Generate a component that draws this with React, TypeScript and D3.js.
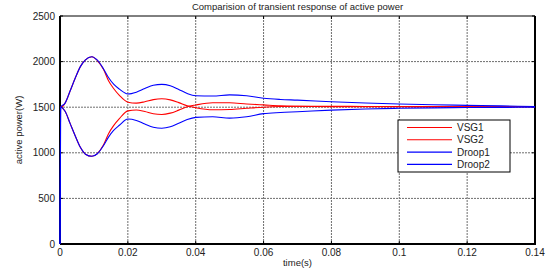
import React from "react";
import * as d3 from "d3";

// time axis (s) shared by all series
const time = [
  0, 0.0002, 0.0015, 0.003, 0.0045, 0.006, 0.0075, 0.0094, 0.011, 0.0128, 0.0143, 0.0158, 0.0175,
  0.02, 0.0225, 0.025, 0.0275, 0.03, 0.0325, 0.035, 0.0375, 0.04, 0.045, 0.05, 0.055, 0.06,
  0.065, 0.07, 0.08, 0.09, 0.1, 0.11, 0.12, 0.13, 0.14,
];

const vsg1 = [
  1500, 1500, 1545, 1680, 1820, 1945, 2020, 2054, 2012, 1915, 1790, 1705, 1630,
  1555, 1545, 1560, 1583, 1592, 1580, 1550, 1515, 1495, 1472, 1475, 1488, 1500,
  1507, 1510, 1510, 1508, 1507, 1506, 1505, 1505, 1505,
];
const vsg2 = [
  1500, 1500, 1455, 1320, 1185, 1060, 985, 962, 992, 1085, 1210, 1298, 1375,
  1460, 1470, 1452, 1428, 1420, 1435, 1468, 1505, 1524, 1548, 1548, 1535, 1525,
  1515, 1510, 1506, 1505, 1505, 1505, 1505, 1505, 1505,
];
const droop1 = [
  0, 1500, 1545, 1680, 1820, 1945, 2020, 2054, 2015, 1922, 1825, 1752, 1698,
  1645, 1665, 1705, 1740, 1750, 1735, 1695, 1650, 1625, 1622, 1635, 1625, 1598,
  1585, 1578, 1560, 1546, 1535, 1527, 1520, 1514, 1508,
];
const droop2 = [
  0, 1500, 1455, 1320, 1185, 1060, 985, 962, 990, 1078, 1172, 1245, 1302,
  1370, 1355, 1315, 1280, 1270, 1285, 1325, 1365, 1388, 1395, 1380, 1395, 1430,
  1442, 1450, 1468, 1480, 1488, 1493, 1496, 1498, 1500,
];

const seriesNames = ["VSG1", "VSG2", "Droop1", "Droop2"];
const seriesValues = [vsg1, vsg2, droop1, droop2];
const seriesColors = ["#ff0000", "#ff0000", "#0000ff", "#0000ff"];

const xTicks = [0, 0.02, 0.04, 0.06, 0.08, 0.1, 0.12, 0.14];
const yTicks = [0, 500, 1000, 1500, 2000, 2500];

const W = 551;
const H = 273;
const font = "'Liberation Sans', Arial, sans-serif";

export default function App() {
  const x = d3.scaleLinear().domain([0, 0.14]).range([60, 535]);
  const y = d3.scaleLinear().domain([0, 2500]).range([244, 16]);

  const line = d3
    .line<number>()
    .x((_, i) => x(time[i]))
    .y((d) => y(d))
    .curve(d3.curveMonotoneX);

  const [x0, x1] = x.range();
  const [y0, y1] = y.range();

  // legend placement
  const lg = { x: 398, y: 120, w: 112, h: 52, row: 12.3 };

  return (
    <svg
      width={W}
      height={H}
      style={{ position: "absolute", left: 0, top: 0, background: "#fff" }}
      fontFamily={font}
    >
      <rect width={W} height={H} fill="#fff" />

      {/* grid */}
      <g stroke="#6e6e6e" strokeWidth={1} strokeDasharray="2 1">
        {xTicks.slice(1, -1).map((t) => (
          <line key={"gx" + t} x1={x(t)} x2={x(t)} y1={y0} y2={y1} />
        ))}
        {yTicks.slice(1, -1).map((t) => (
          <line key={"gy" + t} x1={x0} x2={x1} y1={y(t)} y2={y(t)} />
        ))}
      </g>

      {/* ticks on all sides */}
      <g stroke="#000" strokeWidth={1}>
        {xTicks.map((t) => (
          <g key={"tx" + t}>
            <line x1={x(t)} x2={x(t)} y1={y0} y2={y0 - 3} />
            <line x1={x(t)} x2={x(t)} y1={y1} y2={y1 + 3} />
          </g>
        ))}
        {yTicks.map((t) => (
          <g key={"ty" + t}>
            <line x1={x0} x2={x0 + 3} y1={y(t)} y2={y(t)} />
            <line x1={x1} x2={x1 - 3} y1={y(t)} y2={y(t)} />
          </g>
        ))}
      </g>

      {/* axes box */}
      <line x1={x0} x2={x1} y1={y1} y2={y1} stroke="#000" strokeWidth={1} />
      <line x1={x0} x2={x0} y1={y1} y2={y0} stroke="#000" strokeWidth={2} />
      <line x1={x0} x2={x1 + 1} y1={y0} y2={y0} stroke="#000" strokeWidth={2} />
      <line x1={x1} x2={x1} y1={y1} y2={y0} stroke="#000" strokeWidth={2} />

      {/* series, drawn over the axes */}
      <g fill="none" strokeWidth={1.1}>
        {seriesValues.map((vals, i) => (
          <path key={seriesNames[i]} d={line(vals) || ""} stroke={seriesColors[i]} />
        ))}
      </g>

      {/* tick labels */}
      <g fontSize={10} fill="#222">
        {xTicks.map((t) => (
          <text key={"lx" + t} x={x(t)} y={y0 + 12} textAnchor="middle">
            {d3.format("~g")(t)}
          </text>
        ))}
        {yTicks.map((t) => (
          <text key={"ly" + t} x={x0 - 5} y={y(t) + 3.5} textAnchor="end">
            {t}
          </text>
        ))}
      </g>

      {/* titles */}
      <text x={(x0 + x1) / 2} y={10} textAnchor="middle" fontSize={9.5} fill="#222">
        Comparision of transient response of active power
      </text>
      <text x={(x0 + x1) / 2} y={266} textAnchor="middle" fontSize={9.5} fill="#222">
        time(s)
      </text>
      <text
        transform={`translate(22,${(y0 + y1) / 2}) rotate(-90)`}
        textAnchor="middle"
        fontSize={9.5}
        fill="#222"
      >
        active power(W)
      </text>

      {/* legend */}
      <rect x={lg.x} y={lg.y} width={lg.w} height={lg.h} fill="#fff" stroke="#000" strokeWidth={1} />
      {seriesNames.map((name, i) => {
        const ry = lg.y + 7.5 + i * lg.row;
        return (
          <g key={"lg" + name}>
            <line x1={lg.x + 9} x2={lg.x + 54} y1={ry} y2={ry} stroke={seriesColors[i]} strokeWidth={1.1} />
            <text x={lg.x + 59} y={ry + 3.5} fontSize={10} fill="#222">
              {name}
            </text>
          </g>
        );
      })}
    </svg>
  );
}
